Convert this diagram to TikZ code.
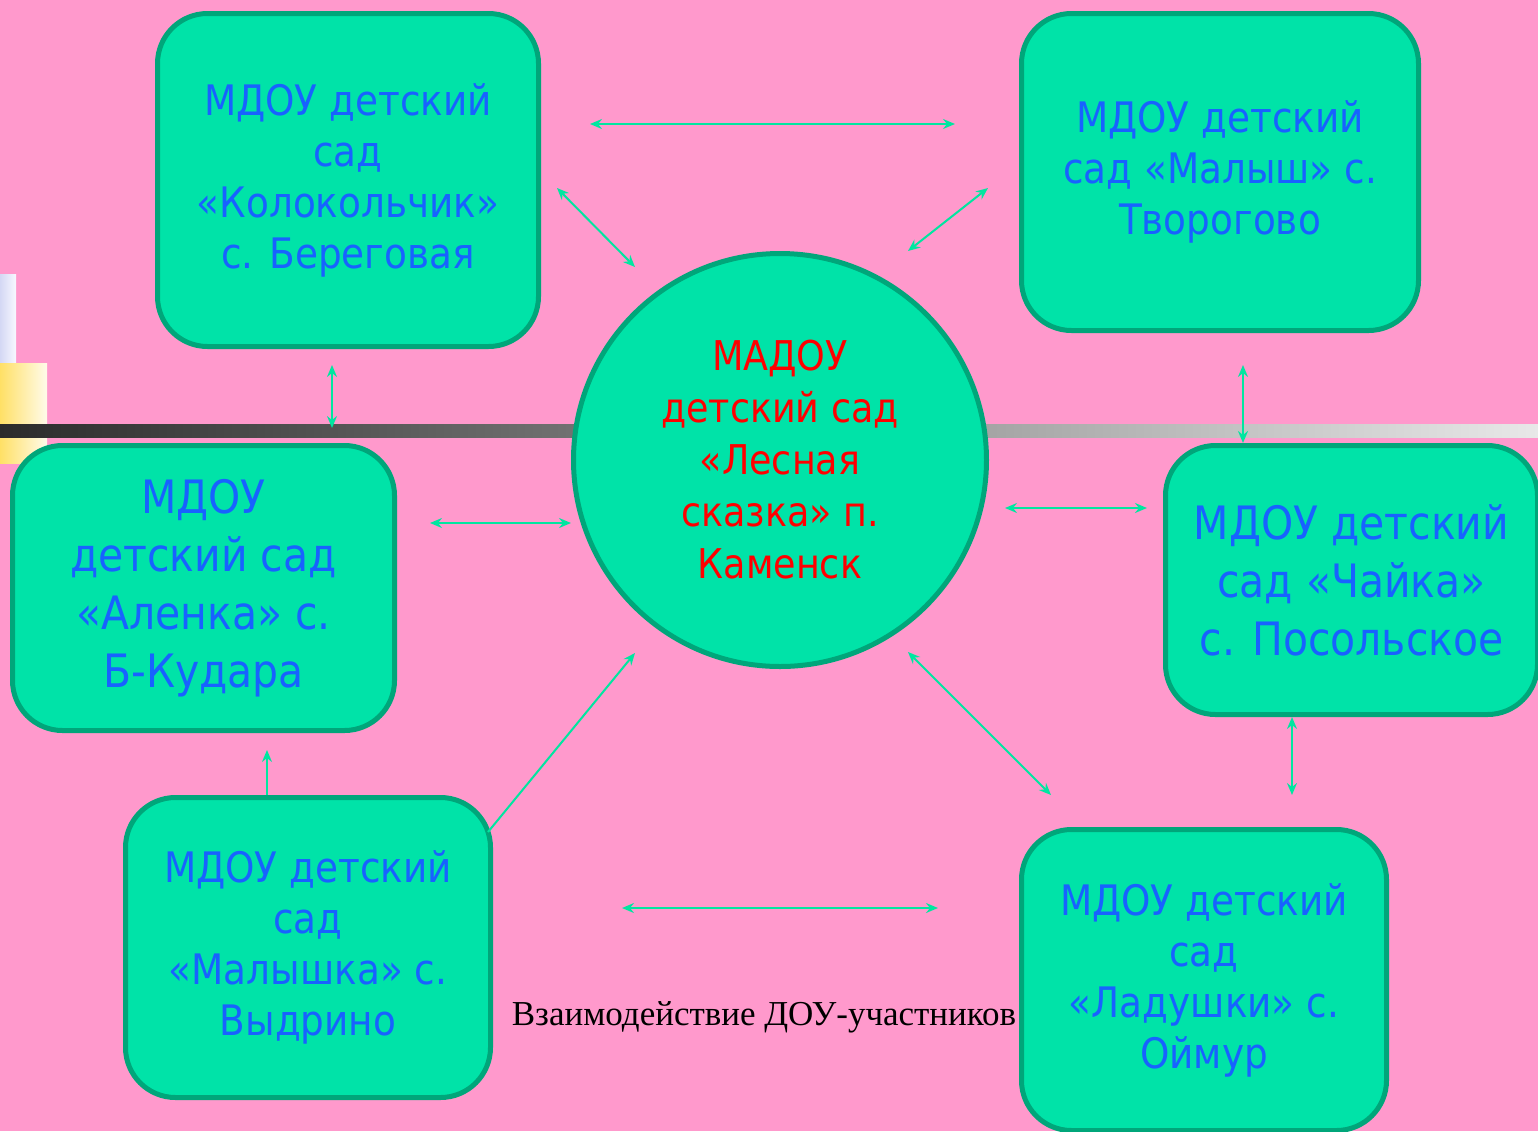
\documentclass[tikz,border=0pt]{standalone}
\usepackage{fontspec}
\setmainfont{DejaVu Sans}[FakeStretch=0.89]
\newfontfamily\captionfont{Liberation Serif}
\usetikzlibrary{arrows.meta}

\definecolor{bgpink}{HTML}{FF99CC}
\definecolor{gardenfill}{HTML}{00E3A8}
\definecolor{gardenline}{HTML}{00A67A}
\definecolor{gardentext}{HTML}{1862FF}
\definecolor{linkgreen}{HTML}{00E6A0}

\tikzset{
  garden/.style={draw=gardenline, fill=gardenfill, line width=2.5pt, rounded corners=25pt,
    align=center, text=gardentext, inner sep=0pt, font=\fontsize{21pt}{25.5pt}\selectfont},
  bigtext/.style={font=\fontsize{23pt}{29pt}\selectfont},
  linktip/.tip={Stealth[length=6pt, width=5pt, inset=2pt]},
  link/.style={draw=linkgreen, line width=1pt, linktip-linktip},
  uplink/.style={draw=linkgreen, line width=1pt, -linktip},
}

\begin{document}
\begin{tikzpicture}[x=0.5pt, y=-0.5pt]
\useasboundingbox (0,0) rectangle (1538,1131);
\clip (0,0) rectangle (1538,1131);
\fill[bgpink] (0,0) rectangle (1538,1131);
\shade[left color={rgb,255:red,212;green,216;blue,244}, right color={rgb,255:red,248;green,248;blue,255}] (0,274) rectangle (16,363);
\shade[left color={rgb,255:red,255;green,224;blue,102}, right color={rgb,255:red,255;green,251;blue,234}] (0,363) rectangle (47,463);
\shade[left color={rgb,255:red,43;green,43;blue,43}, right color={rgb,255:red,232;green,232;blue,232}] (0,424) rectangle (1538,437);

\node[garden, circle, minimum size=206.5pt, text=red, font=\fontsize{20.5pt}{26pt}\selectfont] (lesnaya) at (780,460)
  {МАДОУ\\детский сад\\«Лесная\\сказка» п.\\Каменск};
\node[garden, minimum width=190.5pt, minimum height=166.5pt] (kolokol) at (348,180)
  {МДОУ детский\\сад\\«Колокольчик»\\с. Береговая};
\node[garden, minimum width=198.5pt, minimum height=158.5pt] (malysh) at (1220,172)
  {МДОУ детский\\сад «Малыш» с.\\Творогово};
\node[garden, bigtext, minimum width=191pt, minimum height=142.5pt] (alenka) at (203.5,588)
  {МДОУ\\детский сад\\«Аленка» с.\\Б-Кудара};
\node[garden, bigtext, minimum width=186pt, minimum height=134.5pt] (chaika) at (1351.5,580)
  {МДОУ детский\\сад «Чайка»\\с. Посольское};
\node[garden, minimum width=182.5pt, minimum height=150pt] (malyshka) at (308,947.5)
  {МДОУ детский\\сад\\«Малышка» с.\\Выдрино};
\node[garden, minimum width=182.5pt, minimum height=150.5pt] (ladushki) at (1204,980)
  {МДОУ детский\\сад\\«Ладушки» с.\\Оймур};

\node[font=\captionfont\fontsize{17.5pt}{21pt}\selectfont, inner sep=0pt] (title) at (764,1017)
  {Взаимодействие ДОУ-участников};

\coordinate (kolokol-malysh-a) at (590,124);
\coordinate (kolokol-malysh-b) at (955,124);
\coordinate (kolokol-lesnaya-a) at (557,188);
\coordinate (kolokol-lesnaya-b) at (635,267);
\coordinate (malysh-lesnaya-a) at (988,188);
\coordinate (malysh-lesnaya-b) at (908,251);
\coordinate (kolokol-alenka-a) at (332,365);
\coordinate (kolokol-alenka-b) at (332,428);
\coordinate (malysh-chaika) at (1243,365);
\coordinate (alenka-lesnaya) at (430,523);
\coordinate (lesnaya-chaika-a) at (1005,508);
\coordinate (lesnaya-chaika-b) at (1147,508);
\coordinate (malyshka-alenka) at (267,750);
\coordinate (malyshka-corner) at (488,832);
\coordinate (malyshka-lesnaya) at (635,653);
\coordinate (lesnaya-ladushki-a) at (908,652);
\coordinate (lesnaya-ladushki-b) at (1051,795);
\coordinate (chaika-ladushki) at (1292,795);
\coordinate (malyshka-ladushki-a) at (622,908);
\coordinate (malyshka-ladushki-b) at (938,908);

\draw[link] (kolokol-malysh-a) -- (kolokol-malysh-b);
\draw[link] (kolokol-lesnaya-a) -- (kolokol-lesnaya-b);
\draw[link] (malysh-lesnaya-a) -- (malysh-lesnaya-b);
\draw[link] (kolokol-alenka-a) -- (kolokol-alenka-b);
\draw[link] (malysh-chaika) -- (malysh-chaika |- chaika.north);
\draw[link] (alenka-lesnaya) -- (lesnaya.west |- alenka-lesnaya);
\draw[link] (lesnaya-chaika-a) -- (lesnaya-chaika-b);
\draw[uplink] (malyshka.north -| malyshka-alenka) -- (malyshka-alenka);
\draw[uplink] (malyshka-corner) -- (malyshka-lesnaya);
\draw[link] (lesnaya-ladushki-a) -- (lesnaya-ladushki-b);
\draw[link] (chaika.south -| chaika-ladushki) -- (chaika-ladushki);
\draw[link] (malyshka-ladushki-a) -- (malyshka-ladushki-b);
\end{tikzpicture}
\end{document}
